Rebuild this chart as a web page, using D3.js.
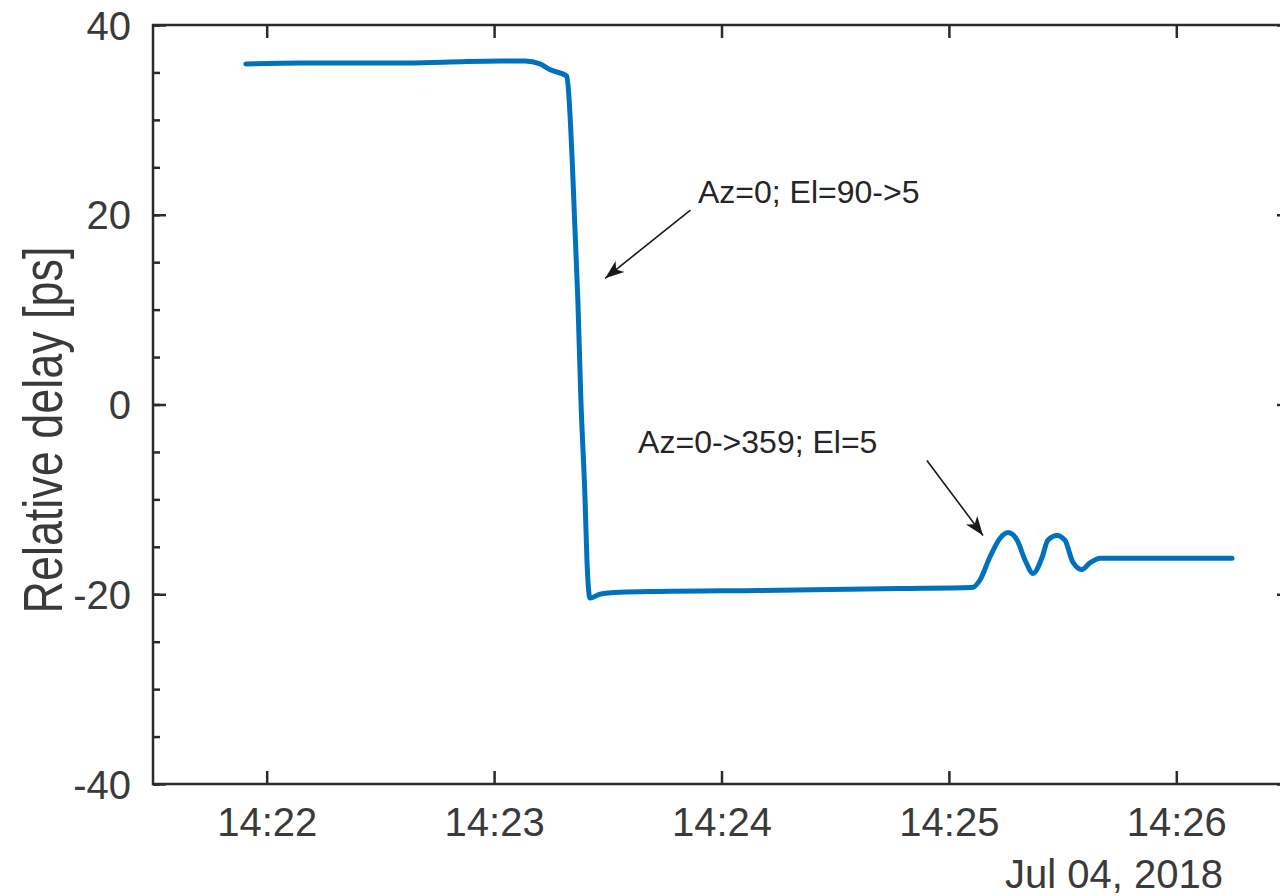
<!DOCTYPE html>
<html>
<head>
<meta charset="utf-8">
<script src="https://cdn.jsdelivr.net/npm/d3@7"></script>
<style>
  body { margin: 0; background: #fff; }
  svg { display: block; font-family: "Liberation Sans", Arial, Helvetica, sans-serif; }
</style>
</head>
<body>
<div id="chart"></div>
<script>
// measured delay vs. time of day (Jul 04, 2018)
const times = [
  '14:21:54.5', '14:22:08.9', '14:22:35.2', '14:22:48.4', '14:23:01.6', '14:23:08.2',
  '14:23:12.1', '14:23:14.7', '14:23:19.2', '14:23:19.8', '14:23:20.6', '14:23:22.1',
  '14:23:22.9', '14:23:24.0', '14:23:24.5', '14:23:25.3', '14:23:27.9', '14:23:33.2',
  '14:23:43.8', '14:24:10.2', '14:24:47.1', '14:25:06.1', '14:25:08.2', '14:25:10.8',
  '14:25:13.5', '14:25:15.6', '14:25:18.0', '14:25:20.1', '14:25:22.2', '14:25:24.6',
  '14:25:26.1', '14:25:28.5', '14:25:30.6', '14:25:32.7', '14:25:35.1', '14:25:37.2',
  '14:25:39.9', '14:26:00.0', '14:26:14.7'
];
const delays = [
  35.9, 36.0, 36.0, 36.1, 36.2, 36.2,
  35.9, 35.3, 34.6, 32.1, 25.8, 11.0,
  0.5, -10.0, -16.4, -20.4, -20.0, -19.8,
  -19.7, -19.6, -19.4, -19.3, -18.5, -16.1,
  -14.1, -13.5, -14.3, -16.4, -17.8, -16.1,
  -14.3, -13.8, -14.3, -16.6, -17.4, -16.7,
  -16.2, -16.2, -16.2
];

const xDomain = ['14:21:30', '14:26:30'];
const xTicks = ['14:22', '14:23', '14:24', '14:25', '14:26'];
const yMajorTicks = [-40, -20, 0, 20, 40];
const yMinorTicks = d3.range(-40, 41, 5);
const yDomain = [-40, 40];
const dateLabel = 'Jul 04, 2018';
const yLabel = 'Relative delay [ps]';

// annotation text + arrow (tail -> tip), in data coordinates
const notes = [
  {text: 'Az=0; El=90->5', at: ['14:23:53.8', 21.2], from: ['14:23:51.8', 20.5], to: ['14:23:29.3', 13.3]},
  {text: 'Az=0->359; El=5', at: ['14:23:38.0', -5.1], from: ['14:24:54.2', -5.9], to: ['14:25:09.0', -13.8]}
];

function parseTime(s) {
  const p = s.split(':').map(Number);
  return new Date(2018, 6, 4, p[0], p[1], 0, Math.round((p[2] || 0) * 1000));
}

class DelayChart {
  constructor(_config) {
    this.config = {
      parentElement: _config.parentElement,
      containerWidth: 1280,
      containerHeight: 896,
      margin: {top: 25, right: -10, bottom: 112, left: 153}
    };
    this.initVis();
  }

  initVis() {
    let vis = this;
    const m = vis.config.margin;
    vis.width = vis.config.containerWidth - m.left - m.right;
    vis.height = vis.config.containerHeight - m.top - m.bottom;

    vis.svg = d3.select(vis.config.parentElement).append('svg')
      .attr('width', vis.config.containerWidth)
      .attr('height', vis.config.containerHeight);

    vis.svg.append('defs').append('marker')
      .attr('id', 'head')
      .attr('markerUnits', 'userSpaceOnUse')
      .attr('viewBox', '-20 -10 22 20')
      .attr('markerWidth', 22).attr('markerHeight', 20)
      .attr('refX', 0).attr('refY', 0)
      .attr('orient', 'auto')
      .append('path')
      .attr('d', 'M0,0 L-19,-7 L-14,0 L-19,7 Z')
      .attr('fill', '#1a1a1a');

    vis.chart = vis.svg.append('g')
      .attr('transform', `translate(${m.left},${m.top})`);

    vis.x = d3.scaleTime()
      .domain(xDomain.map(parseTime))
      .range([0, vis.width]);
    vis.y = d3.scaleLinear()
      .domain(yDomain)
      .range([vis.height, 0]);

    vis.renderVis();
  }

  renderVis() {
    let vis = this;
    const axisColor = '#2b2b2b';
    const textColor = '#3a3a3a';
    const xt = xTicks.map(parseTime);

    // bottom axis with labels
    const gx = vis.chart.append('g')
      .attr('transform', `translate(0,${vis.height})`)
      .call(d3.axisBottom(vis.x).tickValues(xt).tickFormat(d3.timeFormat('%H:%M'))
        .tickSizeInner(-13).tickSizeOuter(0).tickPadding(24));
    // top axis, ticks only
    const gxTop = vis.chart.append('g')
      .call(d3.axisTop(vis.x).tickValues(xt).tickFormat('')
        .tickSizeInner(-13).tickSizeOuter(0));

    // left axis: minor then major
    const gyMinor = vis.chart.append('g')
      .call(d3.axisLeft(vis.y).tickValues(yMinorTicks).tickFormat('')
        .tickSizeInner(-7).tickSizeOuter(0));
    const gy = vis.chart.append('g')
      .call(d3.axisLeft(vis.y).tickValues(yMajorTicks).tickFormat(d => String(d))
        .tickSizeInner(-13).tickSizeOuter(0).tickPadding(22));
    // right axis, ticks only
    const gyRight = vis.chart.append('g')
      .attr('transform', `translate(${vis.width},0)`)
      .call(d3.axisRight(vis.y).tickValues(yMajorTicks).tickFormat('')
        .tickSizeInner(-13).tickSizeOuter(0));

    [gx, gxTop, gyMinor, gy, gyRight].forEach(g => {
      g.select('.domain').remove();
      g.selectAll('.tick line').attr('stroke', axisColor).attr('stroke-width', 2.5);
      g.selectAll('.tick text')
        .attr('fill', textColor)
        .style('font-size', '40px')
        .style('font-family', '"Liberation Sans", Arial, sans-serif');
    });
    gy.selectAll('.tick text').attr('dy', '0.35em');

    // box
    vis.chart.append('rect')
      .attr('x', 0).attr('y', 0)
      .attr('width', vis.width).attr('height', vis.height)
      .attr('fill', 'none')
      .attr('stroke', axisColor)
      .attr('stroke-width', 2.5);

    // data line
    const data = times.map((t, i) => ({t: parseTime(t), v: delays[i]}));
    const line = d3.line()
      .x(d => vis.x(d.t))
      .y(d => vis.y(d.v))
      .curve(d3.curveMonotoneX);
    vis.chart.append('path')
      .datum(data)
      .attr('d', line)
      .attr('fill', 'none')
      .attr('stroke', '#0072BD')
      .attr('stroke-width', 5)
      .attr('stroke-linejoin', 'round')
      .attr('stroke-linecap', 'round');

    // annotations
    notes.forEach(n => {
      vis.chart.append('line')
        .attr('x1', vis.x(parseTime(n.from[0]))).attr('y1', vis.y(n.from[1]))
        .attr('x2', vis.x(parseTime(n.to[0]))).attr('y2', vis.y(n.to[1]))
        .attr('stroke', '#1a1a1a')
        .attr('stroke-width', 1.6)
        .attr('marker-end', 'url(#head)');
      vis.chart.append('text')
        .attr('x', vis.x(parseTime(n.at[0])))
        .attr('y', vis.y(n.at[1]))
        .attr('fill', '#262626')
        .style('font-size', '32px')
        .text(n.text);
    });

    // date under the last tick
    vis.svg.append('text')
      .attr('x', 1223).attr('y', 888)
      .attr('text-anchor', 'end')
      .attr('fill', textColor)
      .style('font-size', '40px')
      .text(dateLabel);

    // y axis title
    vis.svg.append('text')
      .attr('transform', 'translate(62,430) rotate(-90)')
      .attr('text-anchor', 'middle')
      .attr('fill', textColor)
      .attr('textLength', 367)
      .attr('lengthAdjust', 'spacingAndGlyphs')
      .style('font-size', '56px')
      .text(yLabel);
  }
}

new DelayChart({parentElement: '#chart'});
</script>
</body>
</html>
